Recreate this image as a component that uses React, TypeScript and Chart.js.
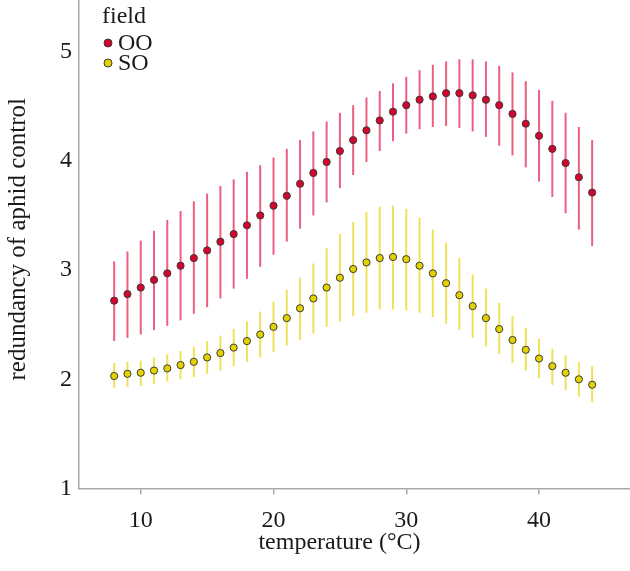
import React, { useEffect, useRef } from "react";
import { Chart, registerables } from "chart.js";

Chart.register(...registerables);

// temperature (°C)
const temperatures = [8, 9, 10, 11, 12, 13, 14, 15, 16, 17, 18, 19, 20, 21, 22, 23, 24, 25, 26, 27, 28, 29, 30, 31, 32, 33, 34, 35, 36, 37, 38, 39, 40, 41, 42, 43, 44];

// field OO
const ooMean = [2.72, 2.78, 2.84, 2.91, 2.97, 3.04, 3.11, 3.18, 3.26, 3.33, 3.41, 3.50, 3.59, 3.68, 3.79, 3.89, 3.99, 4.09, 4.19, 4.28, 4.37, 4.45, 4.51, 4.56, 4.59, 4.62, 4.62, 4.60, 4.56, 4.51, 4.43, 4.34, 4.23, 4.11, 3.98, 3.85, 3.71];
const ooHigh = [3.08, 3.17, 3.27, 3.36, 3.46, 3.54, 3.63, 3.70, 3.77, 3.83, 3.90, 3.96, 4.03, 4.11, 4.19, 4.27, 4.36, 4.44, 4.51, 4.58, 4.64, 4.71, 4.77, 4.83, 4.88, 4.91, 4.93, 4.93, 4.91, 4.87, 4.81, 4.73, 4.65, 4.55, 4.44, 4.31, 4.19];
const ooLow = [2.35, 2.38, 2.41, 2.45, 2.49, 2.54, 2.60, 2.66, 2.74, 2.83, 2.92, 3.03, 3.14, 3.26, 3.38, 3.50, 3.62, 3.75, 3.87, 3.99, 4.09, 4.18, 4.25, 4.29, 4.31, 4.32, 4.30, 4.27, 4.22, 4.14, 4.05, 3.94, 3.81, 3.67, 3.52, 3.37, 3.22];

// field SO
const soMean = [2.03, 2.05, 2.06, 2.08, 2.10, 2.13, 2.16, 2.20, 2.24, 2.29, 2.35, 2.41, 2.48, 2.56, 2.65, 2.74, 2.84, 2.93, 3.01, 3.07, 3.11, 3.12, 3.10, 3.04, 2.97, 2.88, 2.77, 2.67, 2.56, 2.46, 2.36, 2.27, 2.19, 2.12, 2.06, 2.00, 1.95];
const soHigh = [2.15, 2.16, 2.17, 2.20, 2.23, 2.26, 2.30, 2.35, 2.40, 2.46, 2.53, 2.62, 2.71, 2.82, 2.93, 3.06, 3.20, 3.33, 3.44, 3.53, 3.58, 3.59, 3.56, 3.48, 3.37, 3.25, 3.11, 2.96, 2.83, 2.70, 2.58, 2.47, 2.37, 2.28, 2.22, 2.16, 2.12];
const soLow = [1.92, 1.93, 1.94, 1.96, 1.98, 2.00, 2.02, 2.05, 2.08, 2.12, 2.16, 2.20, 2.25, 2.31, 2.36, 2.42, 2.48, 2.53, 2.58, 2.61, 2.64, 2.64, 2.63, 2.61, 2.57, 2.51, 2.45, 2.38, 2.30, 2.23, 2.15, 2.08, 2.01, 1.95, 1.90, 1.84, 1.79];

const xTicks = [10, 20, 30, 40];
const yTicks = [1, 2, 3, 4, 5];
const seriesNames = ["OO", "SO"];
const legendTitle = "field";
const xTitle = "temperature (°C)";
const yTitle = "redundancy of aphid control";

const FONT = "'Liberation Serif', 'Times New Roman', serif";
const AXIS_COLOR = "#a9a9a9";
const TEXT_COLOR = "#1a1a1a";
const OO_FILL = "#d4042f";
const OO_BAR = "#ec5f80";
const SO_FILL = "#e3d100";
const SO_BAR = "#efe25a";
const POINT_BORDER = "#3b3b3b";

export default function App() {
  const ref = useRef<HTMLCanvasElement>(null);

  useEffect(() => {
    const canvas = ref.current;
    if (!canvas) return;

    const build = (mean: number[], low: number[], high: number[]) =>
      temperatures.map((t, i) => ({ x: t, y: mean[i], low: low[i], high: high[i] }));

    const errorBars = {
      id: "errorBars",
      beforeDatasetsDraw(chart: any) {
        const { ctx, scales } = chart;
        const xs = scales.x;
        const ys = scales.y;
        ctx.save();
        chart.data.datasets.forEach((ds: any) => {
          ctx.strokeStyle = ds.barColor;
          ctx.lineWidth = 2;
          ctx.lineCap = "butt";
          ds.data.forEach((p: any) => {
            const px = xs.getPixelForValue(p.x);
            ctx.beginPath();
            ctx.moveTo(px, ys.getPixelForValue(p.low));
            ctx.lineTo(px, ys.getPixelForValue(p.high));
            ctx.stroke();
          });
        });
        ctx.restore();
      },
    };

    const annotations = {
      id: "fieldLegendAndTitles",
      afterDraw(chart: any) {
        const { ctx, chartArea } = chart;
        const left = chartArea.left + 23;
        ctx.save();
        ctx.font = `24px ${FONT}`;
        ctx.fillStyle = TEXT_COLOR;
        ctx.textAlign = "left";
        ctx.textBaseline = "alphabetic";
        ctx.fillText(legendTitle, left, 23);
        chart.data.datasets.forEach((ds: any, i: number) => {
          const cy = 43 + i * 20;
          ctx.beginPath();
          ctx.arc(left + 6, cy, 4, 0, Math.PI * 2);
          ctx.fillStyle = ds.backgroundColor;
          ctx.fill();
          ctx.lineWidth = 1;
          ctx.strokeStyle = POINT_BORDER;
          ctx.stroke();
          ctx.fillStyle = TEXT_COLOR;
          ctx.textBaseline = "middle";
          ctx.fillText(ds.label, left + 16, cy + 1);
        });

        // axis titles
        ctx.fillStyle = TEXT_COLOR;
        ctx.textAlign = "center";
        ctx.textBaseline = "middle";
        ctx.font = `24px ${FONT}`;
        ctx.fillText(xTitle, (chartArea.left + chartArea.right) / 2 - 15, 543);
        ctx.translate(18, (chartArea.top + chartArea.bottom) / 2 - 5);
        ctx.rotate(-Math.PI / 2);
        ctx.font = `25px ${FONT}`;
        ctx.fillText(yTitle, 0, 0);
        ctx.restore();
      },
    };

    const chart = new Chart(canvas, {
      type: "scatter",
      data: {
        datasets: [
          {
            label: seriesNames[0],
            data: build(ooMean, ooLow, ooHigh),
            backgroundColor: OO_FILL,
            borderColor: POINT_BORDER,
            borderWidth: 1,
            pointRadius: 3.6,
            barColor: OO_BAR,
          } as any,
          {
            label: seriesNames[1],
            data: build(soMean, soLow, soHigh),
            backgroundColor: SO_FILL,
            borderColor: POINT_BORDER,
            borderWidth: 1,
            pointRadius: 3.6,
            barColor: SO_BAR,
          } as any,
        ],
      },
      options: {
        responsive: false,
        animation: false,
        devicePixelRatio: 1,
        layout: { padding: 0, autoPadding: false },
        plugins: {
          legend: { display: false },
          tooltip: { enabled: false },
        },
        scales: {
          x: {
            type: "linear",
            min: 5.35,
            max: 46.85,
            afterFit: (s: any) => {
              s.height = 82.5;
              s.paddingLeft = 0;
              s.paddingRight = 0;
            },
            afterBuildTicks: (s: any) => {
              s.ticks = xTicks.map((v) => ({ value: v }));
            },
            border: { display: true, color: AXIS_COLOR, width: 1.5 },
            grid: {
              display: true,
              drawOnChartArea: false,
              drawTicks: true,
              tickLength: 6,
              color: AXIS_COLOR,
              lineWidth: 1.5,
            },
            ticks: {
              padding: 12,
              color: TEXT_COLOR,
              font: { family: FONT, size: 24 },
              maxRotation: 0,
              autoSkip: false,
            },
            title: { display: false },
          },
          y: {
            type: "linear",
            min: 1,
            max: 5.473,
            afterFit: (s: any) => {
              s.width = 79;
              s.paddingTop = 0;
              s.paddingBottom = 0;
            },
            afterBuildTicks: (s: any) => {
              s.ticks = yTicks.map((v) => ({ value: v }));
            },
            border: { display: true, color: AXIS_COLOR, width: 1.5 },
            grid: { display: true, drawOnChartArea: false, drawTicks: false },
            ticks: {
              padding: 7,
              color: TEXT_COLOR,
              font: { family: FONT, size: 24 },
              autoSkip: false,
            },
            title: { display: false },
          },
        },
      },
      plugins: [errorBars, annotations],
    } as any);

    return () => chart.destroy();
  }, []);

  return (
    <div style={{ position: "fixed", left: 0, top: 0, width: 630, height: 571, background: "#ffffff" }}>
      <canvas ref={ref} width={630} height={571} style={{ display: "block" }} />
    </div>
  );
}
